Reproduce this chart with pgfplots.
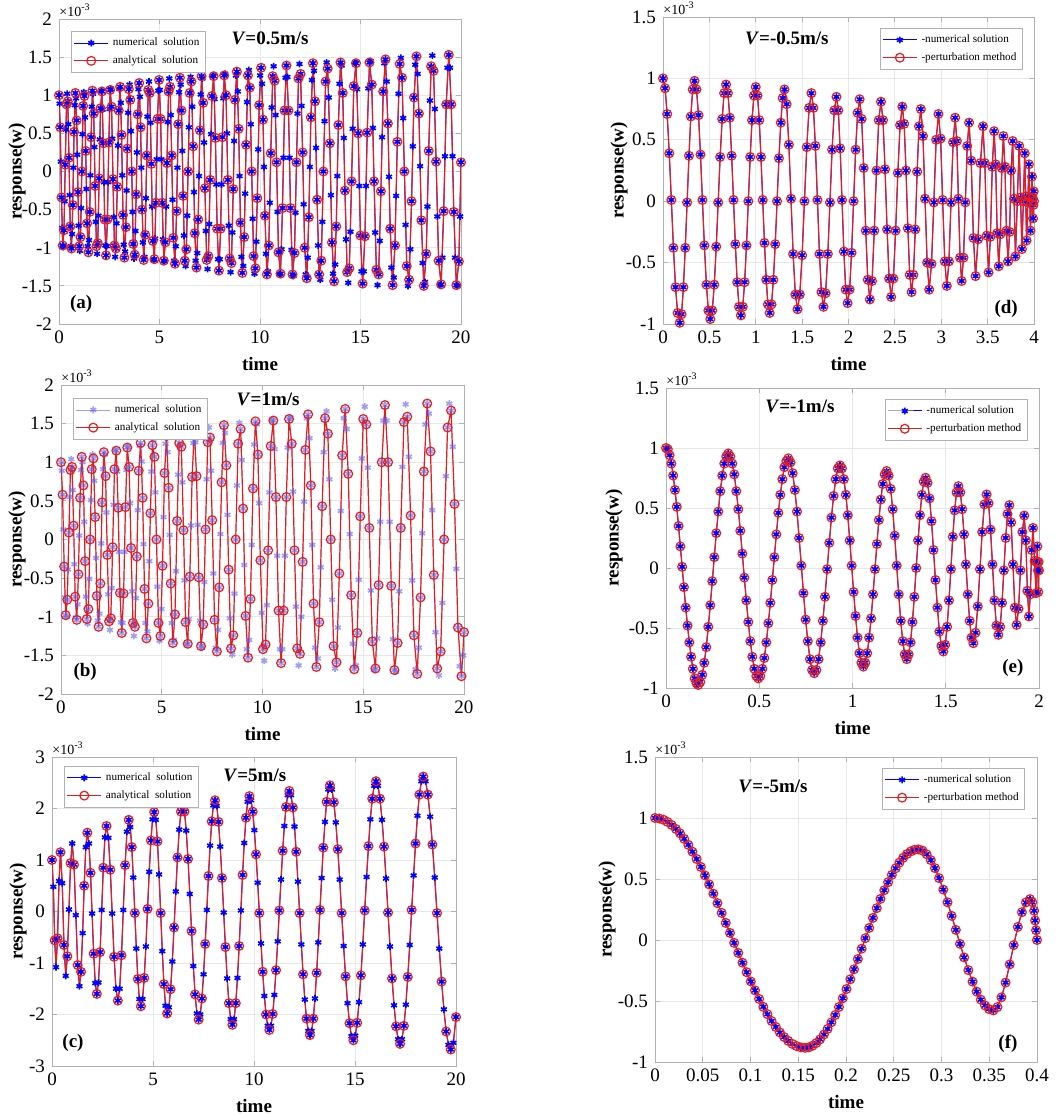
\documentclass[border=0pt]{standalone}
\usepackage{fontspec}
\setmainfont{Liberation Serif}
\usepackage{pgfplots}
\usepackage{pgfplotstable}
\pgfplotsset{compat=1.18}

\pgfplotsset{
  panel/.style={
    scale only axis, anchor=south west,
    axis line style={gray!60}, tick style={gray!60, line width=0.4pt},
    major tick length=2.5pt, tick align=inside,
    grid=major, major grid style={gray!18, line width=0.4pt},
    /pgf/number format/assume math mode=true,
    /pgf/number format/fixed,
    scaled ticks=false,
    tick label style={font=\fontsize{9.5}{11}\selectfont, black},
    label style={font=\bfseries\fontsize{9.5}{11}\selectfont},
    xlabel={time},
    legend style={draw=gray!60, line width=0.5pt, font=\fontsize{5.6}{6.4}\selectfont,
      cells={anchor=west}, inner sep=1pt, row sep=-0.5pt},
  },
  num/.style={color=blue, line width=0.5pt, mark=asterisk, mark size=1.7pt, mark options={line width=0.8pt}},
  ana/.style={color={rgb,255:red,232;green,28;blue,28}, line width=0.6pt, mark=o, mark size=2.2pt,
    mark options={line width=0.6pt},
    legend image code/.code={\draw[##1,mark repeat=2,mark phase=2] plot coordinates {(0cm,0cm) (0.3cm,0cm) (0.6cm,0cm)};}},
}
\tikzset{
  xe/.style={font=\fontsize{7}{8}\selectfont, anchor=south west, inner sep=0pt},
  tt/.style={font=\bfseries\fontsize{9.5}{11}\selectfont},
  yl/.style={font=\bfseries\fontsize{9.5}{11}\selectfont, rotate=90, anchor=center},
}

% V = 0.5 m/s
\pgfplotstableread[row sep=\\]{
t w\\
0 1.00\\ 0.062 0.58\\ 0.124 -0.34\\ 0.186 -0.97\\ 0.248 -0.77\\ 0.311 0.09\\ 0.373 0.88\\ 0.435 0.92\\ 0.497 0.18\\ 0.559 -0.72\\
0.621 -1.01\\ 0.685 -0.44\\ 0.750 0.52\\ 0.814 1.03\\ 0.878 0.67\\ 0.943 -0.27\\ 1.007 -0.98\\ 1.071 -0.86\\ 1.135 0.00\\ 1.200 0.86\\
1.264 0.99\\ 1.330 0.27\\ 1.397 -0.68\\ 1.463 -1.06\\ 1.530 -0.53\\ 1.596 0.45\\ 1.662 1.06\\ 1.729 0.76\\ 1.795 -0.19\\ 1.862 -0.98\\
1.928 -0.94\\ 1.997 -0.09\\ 2.065 0.83\\ 2.134 1.05\\ 2.203 0.37\\ 2.272 -0.63\\ 2.340 -1.10\\ 2.409 -0.63\\ 2.478 0.38\\ 2.546 1.07\\
2.615 0.85\\ 2.686 -0.10\\ 2.757 -0.97\\ 2.828 -1.01\\ 2.899 -0.20\\ 2.971 0.80\\ 3.042 1.11\\ 3.113 0.48\\ 3.184 -0.57\\ 3.255 -1.13\\
3.326 -0.73\\ 3.400 0.30\\ 3.473 1.08\\ 3.547 0.94\\ 3.620 0.00\\ 3.694 -0.95\\ 3.767 -1.09\\ 3.841 -0.30\\ 3.914 0.75\\ 3.988 1.16\\
4.061 0.58\\ 4.137 -0.50\\ 4.213 -1.16\\ 4.289 -0.83\\ 4.365 0.21\\ 4.441 1.07\\ 4.517 1.03\\ 4.593 0.10\\ 4.669 -0.91\\ 4.745 -1.15\\
4.821 -0.41\\ 4.900 0.69\\ 4.978 1.20\\ 5.057 0.69\\ 5.135 -0.41\\ 5.214 -1.17\\ 5.293 -0.93\\ 5.371 0.11\\ 5.450 1.05\\ 5.528 1.11\\
5.607 0.21\\ 5.688 -0.87\\ 5.770 -1.21\\ 5.851 -0.52\\ 5.932 0.62\\ 6.014 1.23\\ 6.095 0.80\\ 6.176 -0.32\\ 6.257 -1.17\\ 6.339 -1.02\\
6.420 0.00\\ 6.504 1.03\\ 6.588 1.18\\ 6.672 0.33\\ 6.756 -0.81\\ 6.840 -1.26\\ 6.924 -0.63\\ 7.008 0.54\\ 7.092 1.25\\ 7.176 0.90\\
7.260 -0.22\\ 7.347 -1.16\\ 7.434 -1.11\\ 7.521 -0.11\\ 7.608 0.99\\ 7.695 1.25\\ 7.782 0.44\\ 7.869 -0.75\\ 7.956 -1.30\\ 8.043 -0.75\\
8.130 0.45\\ 8.220 1.26\\ 8.310 1.00\\ 8.400 -0.11\\ 8.490 -1.14\\ 8.580 -1.20\\ 8.669 -0.23\\ 8.759 0.94\\ 8.849 1.31\\ 8.939 0.56\\
9.029 -0.67\\ 9.122 -1.33\\ 9.215 -0.86\\ 9.308 0.35\\ 9.401 1.26\\ 9.494 1.10\\ 9.587 0.00\\ 9.680 -1.11\\ 9.773 -1.27\\ 9.866 -0.35\\
9.959 0.87\\ 10.055 1.36\\ 10.151 0.68\\ 10.247 -0.58\\ 10.343 -1.35\\ 10.440 -0.97\\ 10.536 0.24\\ 10.632 1.25\\ 10.728 1.19\\ 10.824 0.12\\
10.920 -1.06\\ 11.020 -1.34\\ 11.119 -0.48\\ 11.219 0.80\\ 11.318 1.39\\ 11.418 0.80\\ 11.517 -0.48\\ 11.617 -1.35\\ 11.716 -1.07\\ 11.816 0.12\\
11.915 1.22\\ 12.018 1.28\\ 12.121 0.25\\ 12.223 -1.00\\ 12.326 -1.40\\ 12.429 -0.60\\ 12.532 0.71\\ 12.635 1.42\\ 12.737 0.92\\ 12.840 -0.37\\
12.943 -1.35\\ 13.049 -1.17\\ 13.156 0.00\\ 13.262 1.18\\ 13.368 1.35\\ 13.475 0.37\\ 13.581 -0.93\\ 13.687 -1.44\\ 13.794 -0.72\\ 13.900 0.61\\
14.006 1.43\\ 14.116 1.03\\ 14.226 -0.25\\ 14.336 -1.32\\ 14.446 -1.27\\ 14.556 -0.13\\ 14.666 1.12\\ 14.776 1.42\\ 14.886 0.50\\ 14.996 -0.84\\
15.106 -1.47\\ 15.220 -0.85\\ 15.334 0.51\\ 15.447 1.43\\ 15.561 1.14\\ 15.675 -0.13\\ 15.789 -1.29\\ 15.903 -1.35\\ 16.016 -0.26\\ 16.130 1.05\\
16.244 1.47\\ 16.362 0.63\\ 16.479 -0.75\\ 16.597 -1.49\\ 16.714 -0.97\\ 16.832 0.39\\ 16.949 1.41\\ 17.067 1.23\\ 17.184 0.00\\ 17.302 -1.24\\
17.419 -1.42\\ 17.541 -0.39\\ 17.662 0.97\\ 17.784 1.51\\ 17.906 0.76\\ 18.028 -0.64\\ 18.149 -1.50\\ 18.271 -1.08\\ 18.393 0.27\\ 18.514 1.38\\
18.636 1.32\\ 18.762 0.13\\ 18.887 -1.17\\ 19.013 -1.48\\ 19.139 -0.52\\ 19.265 0.88\\ 19.391 1.53\\ 19.516 0.88\\ 19.642 -0.53\\ 19.768 -1.49\\
19.894 -1.18\\ 20.000 0.12\\
}\dataA
% numerical samples between the ones above
\pgfplotstableread[row sep=\\]{
t w\\
0.031 0.89\\ 0.093 0.13\\ 0.155 -0.74\\ 0.217 -0.99\\ 0.280 -0.39\\ 0.342 0.55\\ 0.404 1.02\\ 0.466 0.62\\ 0.528 -0.31\\ 0.590 -0.98\\
0.653 -0.82\\ 0.717 0.05\\ 0.782 0.87\\ 0.846 0.96\\ 0.910 0.22\\ 0.975 -0.71\\ 1.039 -1.04\\ 1.103 -0.48\\ 1.167 0.49\\ 1.232 1.04\\
1.297 0.71\\ 1.363 -0.23\\ 1.430 -0.98\\ 1.496 -0.90\\ 1.563 -0.05\\ 1.629 0.85\\ 1.695 1.02\\ 1.762 0.32\\ 1.828 -0.66\\ 1.895 -1.08\\
1.962 -0.58\\ 2.031 0.42\\ 2.099 1.06\\ 2.168 0.81\\ 2.237 -0.14\\ 2.306 -0.97\\ 2.374 -0.98\\ 2.443 -0.14\\ 2.512 0.82\\ 2.580 1.08\\
2.651 0.43\\ 2.722 -0.60\\ 2.793 -1.12\\ 2.864 -0.68\\ 2.935 0.34\\ 3.007 1.08\\ 3.078 0.90\\ 3.149 -0.05\\ 3.220 -0.96\\ 3.291 -1.05\\
3.363 -0.25\\ 3.437 0.77\\ 3.510 1.14\\ 3.584 0.53\\ 3.657 -0.53\\ 3.731 -1.14\\ 3.804 -0.78\\ 3.878 0.25\\ 3.951 1.08\\ 4.025 0.98\\
4.099 0.05\\ 4.175 -0.93\\ 4.251 -1.12\\ 4.327 -0.35\\ 4.403 0.72\\ 4.479 1.18\\ 4.555 0.64\\ 4.631 -0.46\\ 4.707 -1.16\\ 4.783 -0.88\\
4.860 0.16\\ 4.939 1.06\\ 5.017 1.07\\ 5.096 0.16\\ 5.174 -0.89\\ 5.253 -1.18\\ 5.332 -0.46\\ 5.410 0.65\\ 5.489 1.22\\ 5.567 0.74\\
5.648 -0.37\\ 5.729 -1.17\\ 5.811 -0.98\\ 5.892 0.05\\ 5.973 1.04\\ 6.055 1.14\\ 6.136 0.27\\ 6.217 -0.84\\ 6.298 -1.24\\ 6.380 -0.58\\
6.462 0.58\\ 6.546 1.24\\ 6.630 0.85\\ 6.714 -0.27\\ 6.798 -1.17\\ 6.882 -1.07\\ 6.966 -0.06\\ 7.050 1.01\\ 7.134 1.22\\ 7.218 0.38\\
7.304 -0.78\\ 7.391 -1.28\\ 7.478 -0.69\\ 7.565 0.49\\ 7.652 1.26\\ 7.739 0.95\\ 7.826 -0.17\\ 7.913 -1.15\\ 8.000 -1.15\\ 8.087 -0.17\\
8.175 0.96\\ 8.265 1.28\\ 8.355 0.50\\ 8.445 -0.71\\ 8.535 -1.32\\ 8.625 -0.80\\ 8.714 0.40\\ 8.804 1.26\\ 8.894 1.05\\ 8.984 -0.06\\
9.076 -1.12\\ 9.169 -1.24\\ 9.262 -0.29\\ 9.355 0.91\\ 9.448 1.33\\ 9.541 0.62\\ 9.634 -0.62\\ 9.727 -1.34\\ 9.820 -0.92\\ 9.913 0.29\\
10.007 1.26\\ 10.103 1.15\\ 10.199 0.06\\ 10.295 -1.08\\ 10.391 -1.31\\ 10.488 -0.41\\ 10.584 0.84\\ 10.680 1.38\\ 10.776 0.74\\ 10.872 -0.53\\
10.970 -1.35\\ 11.070 -1.02\\ 11.169 0.18\\ 11.269 1.23\\ 11.368 1.24\\ 11.468 0.18\\ 11.567 -1.03\\ 11.667 -1.37\\ 11.766 -0.54\\ 11.866 0.76\\
11.966 1.41\\ 12.069 0.86\\ 12.172 -0.43\\ 12.274 -1.35\\ 12.377 -1.13\\ 12.480 0.06\\ 12.583 1.20\\ 12.686 1.32\\ 12.788 0.31\\ 12.891 -0.97\\
12.996 -1.42\\ 13.102 -0.66\\ 13.209 0.66\\ 13.315 1.43\\ 13.421 0.97\\ 13.528 -0.31\\ 13.634 -1.34\\ 13.740 -1.22\\ 13.847 -0.06\\ 13.953 1.15\\
14.061 1.39\\ 14.171 0.44\\ 14.281 -0.89\\ 14.391 -1.46\\ 14.501 -0.79\\ 14.611 0.56\\ 14.721 1.43\\ 14.831 1.08\\ 14.941 -0.19\\ 15.051 -1.31\\
15.163 -1.31\\ 15.277 -0.19\\ 15.391 1.09\\ 15.504 1.45\\ 15.618 0.57\\ 15.732 -0.80\\ 15.846 -1.49\\ 15.960 -0.91\\ 16.073 0.45\\ 16.187 1.42\\
16.303 1.18\\ 16.421 -0.07\\ 16.538 -1.26\\ 16.656 -1.39\\ 16.773 -0.32\\ 16.891 1.02\\ 17.008 1.49\\ 17.126 0.70\\ 17.243 -0.70\\ 17.361 -1.50\\
17.480 -1.02\\ 17.602 0.33\\ 17.723 1.40\\ 17.845 1.28\\ 17.967 0.07\\ 18.089 -1.20\\ 18.210 -1.45\\ 18.332 -0.46\\ 18.454 0.93\\ 18.575 1.52\\
18.699 0.82\\ 18.825 -0.59\\ 18.950 -1.49\\ 19.076 -1.13\\ 19.202 0.20\\ 19.328 1.36\\ 19.454 1.36\\ 19.579 0.20\\ 19.705 -1.13\\ 19.831 -1.50\\
19.957 -0.59\\
}\dataAm

% V = 1 m/s
\pgfplotstableread[row sep=\\]{
t w\\
0 1.00\\ 0.078 0.58\\ 0.157 -0.35\\ 0.235 -0.98\\ 0.313 -0.78\\ 0.392 0.09\\ 0.470 0.90\\ 0.548 0.94\\ 0.626 0.18\\ 0.705 -0.74\\
0.783 -1.04\\ 0.865 -0.45\\ 0.948 0.54\\ 1.030 1.07\\ 1.113 0.70\\ 1.195 -0.28\\ 1.277 -1.03\\ 1.360 -0.90\\ 1.442 0.00\\ 1.525 0.91\\
1.607 1.05\\ 1.694 0.29\\ 1.780 -0.73\\ 1.867 -1.13\\ 1.953 -0.57\\ 2.040 0.48\\ 2.126 1.13\\ 2.213 0.82\\ 2.299 -0.20\\ 2.386 -1.06\\
2.472 -1.02\\ 2.563 -0.10\\ 2.654 0.91\\ 2.745 1.15\\ 2.836 0.41\\ 2.927 -0.69\\ 3.017 -1.21\\ 3.108 -0.70\\ 3.199 0.42\\ 3.290 1.19\\
3.381 0.94\\ 3.477 -0.11\\ 3.572 -1.08\\ 3.668 -1.13\\ 3.763 -0.22\\ 3.859 0.89\\ 3.954 1.25\\ 4.050 0.54\\ 4.145 -0.64\\ 4.241 -1.28\\
4.336 -0.83\\ 4.436 0.34\\ 4.537 1.22\\ 4.637 1.07\\ 4.738 0.00\\ 4.838 -1.08\\ 4.938 -1.25\\ 5.039 -0.34\\ 5.139 0.86\\ 5.240 1.34\\
5.340 0.67\\ 5.446 -0.57\\ 5.551 -1.34\\ 5.657 -0.97\\ 5.762 0.24\\ 5.868 1.25\\ 5.973 1.20\\ 6.079 0.12\\ 6.184 -1.07\\ 6.290 -1.35\\
6.395 -0.48\\ 6.506 0.81\\ 6.617 1.42\\ 6.728 0.82\\ 6.839 -0.49\\ 6.950 -1.38\\ 7.060 -1.10\\ 7.171 0.13\\ 7.282 1.26\\ 7.393 1.32\\
7.504 0.25\\ 7.621 -1.04\\ 7.737 -1.45\\ 7.854 -0.62\\ 7.970 0.74\\ 8.087 1.48\\ 8.204 0.96\\ 8.320 -0.39\\ 8.437 -1.41\\ 8.553 -1.24\\
8.670 0.00\\ 8.792 1.24\\ 8.915 1.43\\ 9.037 0.40\\ 9.160 -0.99\\ 9.282 -1.53\\ 9.404 -0.77\\ 9.527 0.66\\ 9.649 1.53\\ 9.772 1.10\\
9.894 -0.27\\ 10.023 -1.42\\ 10.152 -1.36\\ 10.280 -0.14\\ 10.409 1.21\\ 10.538 1.54\\ 10.667 0.55\\ 10.796 -0.92\\ 10.924 -1.60\\ 11.053 -0.92\\
11.182 0.55\\ 11.317 1.56\\ 11.452 1.24\\ 11.588 -0.14\\ 11.723 -1.41\\ 11.858 -1.48\\ 11.993 -0.29\\ 12.128 1.16\\ 12.264 1.62\\ 12.399 0.70\\
12.534 -0.83\\ 12.676 -1.65\\ 12.818 -1.07\\ 12.961 0.43\\ 13.103 1.57\\ 13.245 1.37\\ 13.387 0.00\\ 13.529 -1.38\\ 13.672 -1.59\\ 13.814 -0.44\\
13.956 1.09\\ 14.105 1.69\\ 14.255 0.85\\ 14.404 -0.72\\ 14.553 -1.68\\ 14.703 -1.21\\ 14.852 0.30\\ 15.001 1.56\\ 15.150 1.49\\ 15.300 0.15\\
15.449 -1.32\\ 15.606 -1.67\\ 15.763 -0.59\\ 15.920 1.00\\ 16.077 1.74\\ 16.234 1.00\\ 16.391 -0.60\\ 16.548 -1.69\\ 16.705 -1.34\\ 16.862 0.15\\
17.019 1.52\\ 17.184 1.59\\ 17.349 0.31\\ 17.514 -1.24\\ 17.679 -1.74\\ 17.844 -0.75\\ 18.009 0.88\\ 18.174 1.76\\ 18.339 1.14\\ 18.504 -0.46\\
18.669 -1.67\\ 18.841 -1.45\\ 19.013 0.00\\ 19.185 1.45\\ 19.358 1.67\\ 19.530 0.46\\ 19.702 -1.14\\ 19.874 -1.77\\ 20.000 -1.20\\
}\dataB
\pgfplotstableread[row sep=\\]{
t w\\
0.039 0.89\\ 0.117 0.13\\ 0.196 -0.75\\ 0.274 -1.00\\ 0.352 -0.39\\ 0.431 0.55\\ 0.509 1.04\\ 0.587 0.64\\ 0.665 -0.32\\ 0.744 -1.01\\
0.824 -0.84\\ 0.906 0.05\\ 0.989 0.90\\ 1.071 1.00\\ 1.154 0.23\\ 1.236 -0.74\\ 1.318 -1.09\\ 1.401 -0.51\\ 1.483 0.51\\ 1.566 1.10\\
1.650 0.76\\ 1.737 -0.24\\ 1.823 -1.05\\ 1.910 -0.96\\ 1.996 -0.05\\ 2.083 0.91\\ 2.169 1.10\\ 2.256 0.35\\ 2.342 -0.71\\ 2.429 -1.17\\
2.517 -0.63\\ 2.608 0.45\\ 2.699 1.16\\ 2.790 0.88\\ 2.881 -0.16\\ 2.972 -1.07\\ 3.062 -1.08\\ 3.153 -0.16\\ 3.244 0.90\\ 3.335 1.20\\
3.429 0.47\\ 3.525 -0.67\\ 3.620 -1.25\\ 3.716 -0.76\\ 3.811 0.38\\ 3.907 1.21\\ 4.002 1.01\\ 4.098 -0.06\\ 4.193 -1.08\\ 4.289 -1.19\\
4.386 -0.28\\ 4.486 0.88\\ 4.587 1.29\\ 4.687 0.61\\ 4.788 -0.61\\ 4.888 -1.31\\ 4.988 -0.90\\ 5.089 0.29\\ 5.189 1.24\\ 5.290 1.13\\
5.393 0.06\\ 5.499 -1.08\\ 5.604 -1.30\\ 5.710 -0.41\\ 5.815 0.84\\ 5.921 1.38\\ 6.026 0.74\\ 6.132 -0.53\\ 6.237 -1.36\\ 6.343 -1.03\\
6.450 0.18\\ 6.561 1.25\\ 6.672 1.26\\ 6.783 0.19\\ 6.894 -1.05\\ 7.005 -1.40\\ 7.115 -0.55\\ 7.226 0.78\\ 7.337 1.45\\ 7.448 0.89\\
7.562 -0.44\\ 7.679 -1.40\\ 7.795 -1.17\\ 7.912 0.07\\ 8.028 1.25\\ 8.145 1.38\\ 8.262 0.32\\ 8.378 -1.02\\ 8.495 -1.49\\ 8.611 -0.70\\
8.731 0.70\\ 8.853 1.51\\ 8.976 1.03\\ 9.098 -0.33\\ 9.221 -1.42\\ 9.343 -1.30\\ 9.465 -0.07\\ 9.588 1.23\\ 9.710 1.49\\ 9.833 0.47\\
9.958 -0.95\\ 10.087 -1.57\\ 10.216 -0.85\\ 10.344 0.61\\ 10.473 1.55\\ 10.602 1.17\\ 10.731 -0.21\\ 10.860 -1.42\\ 10.988 -1.42\\ 11.117 -0.21\\
11.250 1.19\\ 11.385 1.58\\ 11.520 0.62\\ 11.656 -0.87\\ 11.791 -1.63\\ 11.926 -1.00\\ 12.061 0.49\\ 12.196 1.57\\ 12.332 1.31\\ 12.467 -0.07\\
12.605 -1.40\\ 12.747 -1.54\\ 12.889 -0.36\\ 13.032 1.13\\ 13.174 1.66\\ 13.316 0.78\\ 13.458 -0.78\\ 13.600 -1.67\\ 13.743 -1.14\\ 13.885 0.37\\
14.031 1.57\\ 14.180 1.43\\ 14.330 0.07\\ 14.479 -1.35\\ 14.628 -1.63\\ 14.778 -0.52\\ 14.927 1.05\\ 15.076 1.72\\ 15.225 0.93\\ 15.375 -0.66\\
15.528 -1.69\\ 15.685 -1.28\\ 15.842 0.23\\ 15.999 1.54\\ 16.156 1.54\\ 16.313 0.23\\ 16.470 -1.29\\ 16.627 -1.71\\ 16.784 -0.67\\ 16.941 0.94\\
17.102 1.75\\ 17.267 1.07\\ 17.432 -0.53\\ 17.597 -1.68\\ 17.762 -1.40\\ 17.927 0.08\\ 18.092 1.49\\ 18.257 1.63\\ 18.422 0.38\\ 18.587 -1.20\\
18.755 -1.76\\ 18.927 -0.82\\ 19.099 0.82\\ 19.272 1.76\\ 19.444 1.20\\ 19.616 -0.38\\ 19.788 -1.64\\ 19.960 -1.50\\
}\dataBm

% V = 5 m/s
\pgfplotstableread[row sep=\\]{
t w\\
0 1.00\\ 0.067 0.48\\ 0.133 -0.56\\ 0.200 -1.08\\ 0.273 -0.52\\ 0.347 0.59\\ 0.420 1.15\\ 0.507 0.55\\ 0.593 -0.65\\ 0.680 -1.25\\
0.760 -0.87\\ 0.840 0.04\\ 0.920 0.94\\ 1.000 1.32\\ 1.090 0.91\\ 1.180 -0.07\\ 1.270 -1.04\\ 1.360 -1.45\\ 1.438 -1.17\\ 1.516 -0.42\\
1.594 0.50\\ 1.672 1.25\\ 1.750 1.53\\ 1.828 1.32\\ 1.907 0.75\\ 1.985 -0.04\\ 2.063 -0.82\\ 2.142 -1.39\\ 2.220 -1.60\\ 2.300 -1.38\\
2.380 -0.79\\ 2.460 0.03\\ 2.540 0.85\\ 2.620 1.44\\ 2.700 1.66\\ 2.793 1.43\\ 2.887 0.81\\ 2.980 -0.04\\ 3.073 -0.88\\ 3.167 -1.50\\
3.260 -1.73\\ 3.350 -1.50\\ 3.440 -0.85\\ 3.530 0.03\\ 3.620 0.90\\ 3.710 1.55\\ 3.800 1.78\\ 3.875 1.64\\ 3.950 1.25\\ 4.025 0.66\\
4.100 -0.03\\ 4.175 -0.72\\ 4.250 -1.31\\ 4.325 -1.70\\ 4.400 -1.84\\ 4.483 -1.70\\ 4.565 -1.29\\ 4.648 -0.68\\ 4.730 0.05\\ 4.813 0.77\\
4.895 1.38\\ 4.978 1.79\\ 5.060 1.93\\ 5.140 1.78\\ 5.220 1.36\\ 5.300 0.72\\ 5.380 -0.03\\ 5.460 -0.77\\ 5.540 -1.41\\ 5.620 -1.83\\
5.700 -1.98\\ 5.786 -1.86\\ 5.871 -1.51\\ 5.957 -0.97\\ 6.042 -0.31\\ 6.128 0.39\\ 6.213 1.05\\ 6.299 1.59\\ 6.384 1.94\\ 6.470 2.06\\
6.558 1.94\\ 6.646 1.57\\ 6.733 1.02\\ 6.821 0.34\\ 6.909 -0.38\\ 6.997 -1.06\\ 7.084 -1.61\\ 7.172 -1.98\\ 7.260 -2.10\\ 7.341 -2.00\\
7.422 -1.69\\ 7.503 -1.22\\ 7.584 -0.63\\ 7.665 0.03\\ 7.746 0.69\\ 7.827 1.28\\ 7.908 1.75\\ 7.989 2.06\\ 8.070 2.16\\ 8.156 2.05\\
8.242 1.74\\ 8.328 1.26\\ 8.414 0.65\\ 8.500 -0.02\\ 8.586 -0.69\\ 8.672 -1.30\\ 8.758 -1.78\\ 8.844 -2.09\\ 8.930 -2.20\\ 9.014 -2.09\\
9.098 -1.78\\ 9.182 -1.29\\ 9.266 -0.67\\ 9.350 0.02\\ 9.434 0.71\\ 9.518 1.33\\ 9.602 1.82\\ 9.686 2.13\\ 9.770 2.24\\ 9.853 2.16\\
9.935 1.94\\ 10.018 1.58\\ 10.100 1.11\\ 10.183 0.56\\ 10.265 -0.03\\ 10.348 -0.62\\ 10.430 -1.17\\ 10.513 -1.64\\ 10.595 -2.00\\ 10.678 -2.22\\
10.760 -2.30\\ 10.843 -2.22\\ 10.925 -1.99\\ 11.008 -1.62\\ 11.090 -1.14\\ 11.173 -0.58\\ 11.255 0.02\\ 11.338 0.62\\ 11.420 1.18\\ 11.503 1.66\\
11.585 2.03\\ 11.668 2.26\\ 11.750 2.34\\ 11.835 2.26\\ 11.920 2.02\\ 12.005 1.65\\ 12.090 1.16\\ 12.175 0.58\\ 12.260 -0.03\\ 12.345 -0.64\\
12.430 -1.22\\ 12.515 -1.71\\ 12.600 -2.08\\ 12.685 -2.32\\ 12.770 -2.40\\ 12.853 -2.32\\ 12.935 -2.08\\ 13.018 -1.69\\ 13.100 -1.19\\ 13.183 -0.60\\
13.265 0.03\\ 13.348 0.65\\ 13.430 1.24\\ 13.513 1.74\\ 13.595 2.13\\ 13.678 2.37\\ 13.760 2.45\\ 13.857 2.37\\ 13.953 2.12\\ 14.050 1.73\\
14.147 1.21\\ 14.243 0.62\\ 14.340 -0.03\\ 14.437 -0.67\\ 14.533 -1.26\\ 14.630 -1.78\\ 14.727 -2.17\\ 14.823 -2.42\\ 14.920 -2.50\\ 15.013 -2.41\\
15.107 -2.16\\ 15.200 -1.76\\ 15.293 -1.24\\ 15.387 -0.64\\ 15.480 0.02\\ 15.573 0.67\\ 15.667 1.27\\ 15.760 1.79\\ 15.853 2.19\\ 15.947 2.44\\
16.040 2.53\\ 16.139 2.44\\ 16.238 2.19\\ 16.338 1.78\\ 16.437 1.26\\ 16.536 0.64\\ 16.635 -0.02\\ 16.734 -0.68\\ 16.833 -1.30\\ 16.933 -1.82\\
17.032 -2.23\\ 17.131 -2.48\\ 17.230 -2.57\\ 17.326 -2.48\\ 17.422 -2.22\\ 17.518 -1.81\\ 17.613 -1.27\\ 17.709 -0.65\\ 17.805 0.03\\ 17.901 0.70\\
17.997 1.32\\ 18.092 1.86\\ 18.188 2.27\\ 18.284 2.53\\ 18.380 2.62\\ 18.493 2.53\\ 18.607 2.27\\ 18.720 1.84\\ 18.833 1.30\\ 18.947 0.66\\
19.060 -0.03\\ 19.173 -0.72\\ 19.287 -1.36\\ 19.400 -1.90\\ 19.513 -2.33\\ 19.627 -2.59\\ 19.740 -2.68\\ 19.870 -2.55\\ 20.000 -2.05\\
}\dataC

% V = -0.5 m/s
\pgfplotstableread[row sep=\\]{
t w\\
0 1.00\\ 0.0225 0.92\\ 0.045 0.71\\ 0.0675 0.39\\ 0.09 0.01\\ 0.1125 -0.38\\ 0.135 -0.70\\ 0.1575 -0.91\\ 0.18 -0.99\\
0.20 -0.92\\ 0.22 -0.70\\ 0.24 -0.38\\ 0.26 -0.01\\ 0.28 0.37\\ 0.30 0.69\\ 0.32 0.91\\ 0.34 0.98\\
0.361 0.91\\ 0.383 0.70\\ 0.404 0.38\\ 0.425 0.01\\ 0.446 -0.36\\ 0.468 -0.68\\ 0.489 -0.89\\ 0.51 -0.96\\
0.531 -0.89\\ 0.553 -0.68\\ 0.574 -0.37\\ 0.595 -0.01\\ 0.616 0.36\\ 0.638 0.67\\ 0.659 0.88\\ 0.68 0.95\\
0.70 0.88\\ 0.72 0.68\\ 0.74 0.37\\ 0.76 0.01\\ 0.78 -0.35\\ 0.80 -0.66\\ 0.82 -0.86\\ 0.84 -0.93\\
0.86 -0.86\\ 0.88 -0.66\\ 0.90 -0.36\\ 0.92 0.00\\ 0.94 0.36\\ 0.96 0.66\\ 0.98 0.86\\ 1.00 0.93\\
1.019 0.86\\ 1.038 0.66\\ 1.056 0.36\\ 1.075 0.01\\ 1.094 -0.34\\ 1.113 -0.64\\ 1.131 -0.84\\ 1.15 -0.91\\
1.17 -0.84\\ 1.19 -0.64\\ 1.21 -0.35\\ 1.23 0.00\\ 1.25 0.35\\ 1.27 0.64\\ 1.29 0.84\\ 1.31 0.91\\
1.333 0.79\\ 1.357 0.46\\ 1.38 0.02\\ 1.403 -0.43\\ 1.427 -0.76\\ 1.45 -0.88\\
1.475 -0.76\\ 1.50 -0.44\\ 1.525 0.00\\ 1.55 0.44\\ 1.575 0.76\\ 1.60 0.88\\
1.622 0.76\\ 1.643 0.45\\ 1.665 0.01\\ 1.687 -0.43\\ 1.708 -0.74\\ 1.73 -0.86\\
1.753 -0.75\\ 1.777 -0.43\\ 1.80 -0.01\\ 1.823 0.42\\ 1.847 0.74\\ 1.87 0.85\\
1.89 0.74\\ 1.91 0.43\\ 1.93 0.01\\ 1.95 -0.41\\ 1.97 -0.72\\ 1.99 -0.83\\
2.012 -0.72\\ 2.033 -0.42\\ 2.055 0.00\\ 2.077 0.42\\ 2.098 0.72\\ 2.12 0.83\\
2.142 0.67\\ 2.164 0.27\\ 2.186 -0.24\\ 2.208 -0.64\\ 2.23 -0.80\\
2.254 -0.65\\ 2.278 -0.24\\ 2.302 0.25\\ 2.326 0.66\\ 2.35 0.81\\
2.372 0.66\\ 2.394 0.26\\ 2.416 -0.23\\ 2.438 -0.63\\ 2.46 -0.78\\
2.484 -0.63\\ 2.508 -0.24\\ 2.532 0.23\\ 2.556 0.62\\ 2.58 0.77\\
2.60 0.63\\ 2.62 0.25\\ 2.64 -0.22\\ 2.66 -0.60\\ 2.68 -0.74\\
2.70 -0.60\\ 2.72 -0.23\\ 2.74 0.24\\ 2.76 0.61\\ 2.78 0.75\\
2.803 0.53\\ 2.825 0.02\\ 2.848 -0.50\\ 2.87 -0.72\\
2.895 -0.51\\ 2.92 -0.01\\ 2.945 0.50\\ 2.97 0.71\\
2.993 0.51\\ 3.015 0.01\\ 3.038 -0.49\\ 3.06 -0.69\\
3.083 -0.49\\ 3.105 -0.01\\ 3.128 0.48\\ 3.15 0.68\\
3.168 0.49\\ 3.185 0.02\\ 3.203 -0.46\\ 3.22 -0.65\\
3.24 -0.46\\ 3.26 -0.01\\ 3.28 0.45\\ 3.30 0.64\\
3.323 0.33\\ 3.347 -0.30\\ 3.37 -0.61\\ 3.397 -0.31\\ 3.423 0.31\\ 3.45 0.61\\
3.47 0.31\\ 3.49 -0.28\\ 3.51 -0.58\\ 3.53 -0.29\\ 3.55 0.28\\ 3.57 0.57\\
3.587 0.30\\ 3.603 -0.26\\ 3.62 -0.53\\ 3.637 -0.27\\ 3.653 0.27\\ 3.67 0.53\\
3.687 0.28\\ 3.703 -0.24\\ 3.72 -0.49\\ 3.737 -0.25\\ 3.753 0.25\\ 3.77 0.49\\
3.785 0.02\\ 3.80 -0.45\\ 3.82 0.00\\ 3.84 0.45\\ 3.855 0.03\\ 3.87 -0.39\\ 3.885 0.00\\ 3.90 0.39\\
3.91 0.04\\ 3.92 -0.32\\ 3.933 -0.01\\ 3.945 0.30\\ 3.954 0.03\\ 3.962 -0.24\\ 3.97 -0.02\\ 3.978 0.20\\
3.984 0.03\\ 3.99 -0.14\\ 3.994 -0.03\\ 3.997 0.08\\ 4.00 0.00\\
}\dataD

% V = -1 m/s
\pgfplotstableread[row sep=\\]{
t w\\
0 1.00\\ 0.0096 0.99\\ 0.0192 0.94\\ 0.0288 0.87\\ 0.0384 0.77\\ 0.0481 0.65\\ 0.0577 0.51\\ 0.0673 0.35\\ 0.0769 0.18\\ 0.0865 0.01\\
0.0961 -0.16\\ 0.1057 -0.33\\ 0.1153 -0.48\\ 0.125 -0.62\\ 0.1346 -0.74\\ 0.1442 -0.84\\ 0.1538 -0.92\\ 0.1634 -0.96\\ 0.173 -0.975\\
0.1837 -0.95\\ 0.1945 -0.89\\ 0.2052 -0.79\\ 0.2159 -0.66\\ 0.2267 -0.49\\ 0.2374 -0.31\\ 0.2481 -0.11\\ 0.2588 0.09\\ 0.2696 0.29\\ 0.2803 0.47\\
0.291 0.64\\ 0.3018 0.77\\ 0.3125 0.87\\ 0.3232 0.93\\ 0.334 0.955\\
0.3447 0.93\\ 0.3555 0.87\\ 0.3662 0.78\\ 0.3769 0.64\\ 0.3877 0.49\\ 0.3984 0.31\\ 0.4091 0.12\\ 0.4199 -0.08\\ 0.4306 -0.27\\ 0.4413 -0.45\\
0.452 -0.61\\ 0.4628 -0.74\\ 0.4735 -0.84\\ 0.4842 -0.90\\ 0.495 -0.92\\
0.5057 -0.90\\ 0.5165 -0.84\\ 0.5272 -0.75\\ 0.5379 -0.62\\ 0.5487 -0.46\\ 0.5594 -0.29\\ 0.5701 -0.10\\ 0.5808 0.09\\ 0.5916 0.28\\ 0.6023 0.46\\
0.613 0.61\\ 0.6238 0.74\\ 0.6345 0.84\\ 0.6452 0.89\\ 0.656 0.914\\
0.6676 0.88\\ 0.6792 0.79\\ 0.6908 0.65\\ 0.7023 0.47\\ 0.7139 0.25\\ 0.7255 0.02\\ 0.7371 -0.21\\ 0.7487 -0.43\\ 0.7603 -0.61\\ 0.7718 -0.76\\
0.7834 -0.85\\ 0.795 -0.877\\
0.8065 -0.85\\ 0.818 -0.76\\ 0.8295 -0.62\\ 0.841 -0.44\\ 0.8525 -0.24\\ 0.864 -0.01\\ 0.8755 0.21\\ 0.887 0.42\\ 0.8985 0.60\\ 0.91 0.74\\
0.9215 0.83\\ 0.933 0.855\\
0.9434 0.83\\ 0.9538 0.74\\ 0.9643 0.61\\ 0.9747 0.44\\ 0.9851 0.23\\ 0.9955 0.02\\ 1.0059 -0.20\\ 1.0163 -0.40\\ 1.0268 -0.58\\ 1.0372 -0.71\\
1.0476 -0.79\\ 1.058 -0.822\\
1.0684 -0.79\\ 1.0788 -0.71\\ 1.0893 -0.58\\ 1.0997 -0.42\\ 1.1101 -0.22\\ 1.1205 -0.01\\ 1.1309 0.20\\ 1.1413 0.40\\ 1.1518 0.57\\ 1.1622 0.70\\
1.1726 0.78\\ 1.183 0.808\\
1.1938 0.77\\ 1.2046 0.66\\ 1.2154 0.49\\ 1.2262 0.27\\ 1.237 0.02\\ 1.2478 -0.22\\ 1.2586 -0.44\\ 1.2694 -0.61\\ 1.2802 -0.72\\ 1.291 -0.76\\
1.3011 -0.72\\ 1.3112 -0.62\\ 1.3213 -0.45\\ 1.3314 -0.24\\ 1.3415 0.00\\ 1.3516 0.23\\ 1.3617 0.44\\ 1.3718 0.61\\ 1.3819 0.72\\ 1.392 0.752\\
1.4026 0.71\\ 1.4131 0.58\\ 1.4237 0.39\\ 1.4342 0.15\\ 1.4448 -0.10\\ 1.4553 -0.33\\ 1.4659 -0.53\\ 1.4764 -0.65\\ 1.487 -0.696\\
1.4971 -0.64\\ 1.5073 -0.49\\ 1.5174 -0.27\\ 1.5275 -0.01\\ 1.5376 0.26\\ 1.5478 0.48\\ 1.5579 0.63\\ 1.568 0.682\\
1.578 0.63\\ 1.588 0.49\\ 1.598 0.28\\ 1.608 0.03\\ 1.618 -0.22\\ 1.628 -0.44\\ 1.638 -0.58\\ 1.648 -0.627\\
1.6598 -0.54\\ 1.6717 -0.32\\ 1.6835 -0.01\\ 1.6953 0.30\\ 1.7072 0.53\\ 1.719 0.613\\
1.7295 0.54\\ 1.74 0.32\\ 1.7505 0.03\\ 1.761 -0.27\\ 1.7715 -0.48\\ 1.782 -0.557\\
1.7918 -0.49\\ 1.8017 -0.29\\ 1.8115 -0.02\\ 1.8213 0.25\\ 1.8312 0.45\\ 1.841 0.524\\
1.8508 0.38\\ 1.8605 0.03\\ 1.8703 -0.33\\ 1.88 -0.474\\ 1.8903 -0.34\\ 1.9005 -0.02\\ 1.9108 0.30\\ 1.921 0.437\\
1.9293 0.23\\ 1.9377 -0.19\\ 1.946 -0.404\\ 1.9533 -0.22\\ 1.9607 0.15\\ 1.968 0.334\\ 1.976 0.06\\ 1.984 -0.21\\
1.988 0.05\\ 1.991 0.18\\ 1.994 -0.02\\ 1.996 -0.20\\ 1.998 0.05\\ 2.000 -0.02\\
}\dataE

% V = -5 m/s
\pgfplotstableread[row sep=\\]{
t w\\
0 1.000\\ 0.0044 0.996\\ 0.0087 0.986\\ 0.0131 0.968\\ 0.0174 0.943\\ 0.0218 0.911\\ 0.0262 0.874\\ 0.0305 0.829\\ 0.0349 0.780\\ 0.0392 0.724\\
0.0436 0.664\\ 0.0480 0.599\\ 0.0523 0.529\\ 0.0567 0.456\\ 0.0611 0.380\\ 0.0654 0.302\\ 0.0698 0.222\\ 0.0741 0.140\\ 0.0785 0.058\\ 0.0829 -0.024\\
0.0872 -0.106\\ 0.0916 -0.186\\ 0.0960 -0.264\\ 0.1003 -0.340\\ 0.1047 -0.413\\ 0.1090 -0.483\\ 0.1134 -0.548\\ 0.1177 -0.608\\ 0.1221 -0.664\\ 0.1265 -0.713\\
0.1308 -0.758\\ 0.1352 -0.795\\ 0.1395 -0.827\\ 0.1439 -0.852\\ 0.1483 -0.870\\ 0.1526 -0.880\\ 0.1570 -0.884\\
0.1610 -0.880\\ 0.1649 -0.867\\ 0.1689 -0.845\\ 0.1728 -0.815\\ 0.1768 -0.775\\ 0.1807 -0.729\\ 0.1847 -0.675\\ 0.1887 -0.615\\ 0.1926 -0.549\\ 0.1966 -0.478\\
0.2005 -0.402\\ 0.2045 -0.322\\ 0.2084 -0.240\\ 0.2124 -0.156\\ 0.2164 -0.071\\ 0.2203 0.015\\ 0.2243 0.099\\ 0.2282 0.181\\ 0.2322 0.261\\ 0.2361 0.337\\
0.2401 0.408\\ 0.2441 0.474\\ 0.2480 0.534\\ 0.2520 0.588\\ 0.2559 0.634\\ 0.2599 0.674\\ 0.2638 0.704\\ 0.2678 0.726\\ 0.2717 0.739\\ 0.2757 0.743\\
0.2801 0.733\\ 0.2844 0.703\\ 0.2888 0.655\\ 0.2932 0.589\\ 0.2975 0.507\\ 0.3019 0.413\\ 0.3063 0.309\\ 0.3106 0.198\\ 0.3150 0.083\\ 0.3194 -0.032\\
0.3237 -0.143\\ 0.3281 -0.247\\ 0.3325 -0.341\\ 0.3368 -0.423\\ 0.3412 -0.489\\ 0.3456 -0.537\\ 0.3499 -0.567\\ 0.3543 -0.577\\
0.3586 -0.550\\ 0.3628 -0.470\\ 0.3671 -0.349\\ 0.3714 -0.200\\ 0.3756 -0.042\\ 0.3799 0.107\\ 0.3842 0.228\\ 0.3884 0.308\\ 0.3927 0.335\\
0.3950 0.310\\ 0.3970 0.240\\ 0.3980 0.160\\ 0.3990 0.080\\ 0.4000 0.000\\
}\dataF

\begin{document}
\begin{tikzpicture}

% (a)
\begin{axis}[panel, name=pa, at={(29.5pt,395.5pt)}, width=201pt, height=152.5pt,
  xmin=0, xmax=20, ymin=-2, ymax=2, xtick={0,5,...,20}, ytick={-2,-1.5,...,2},
  legend style={at={(0.03,0.96)}, anchor=north west}]
\addplot[num] table {\dataA};
\addplot[num, only marks, forget plot] table {\dataAm};
\addplot[ana] table {\dataA};
\legend{numerical\ \ solution, analytical\ \ solution}
\node[tt] at (rel axis cs:0.525,0.938) {\textit{V}=0.5m/s};
\node[tt] at (rel axis cs:0.055,0.066) {(a)};
\end{axis}
\node[xe] at ([yshift=1pt]pa.north west) {×10\textsuperscript{-3}};
\node[yl] at ([xshift=-21pt]pa.west) {response(w)};

% (b)
\begin{axis}[panel, name=pb, at={(30.5pt,210.5pt)}, width=201.5pt, height=154.5pt,
  xmin=0, xmax=20, ymin=-2, ymax=2, xtick={0,5,...,20}, ytick={-2,-1.5,...,2},
  legend style={at={(0.03,0.958)}, anchor=north west}]
\addplot[num, color={rgb,255:red,95;green,95;blue,235}, opacity=0.6, line width=0.35pt] table {\dataB};
\addplot[num, color={rgb,255:red,95;green,95;blue,235}, opacity=0.6, only marks, forget plot] table {\dataBm};
\addplot[ana] table {\dataB};
\legend{numerical\ \ solution, analytical\ \ solution}
\node[tt] at (rel axis cs:0.514,0.955) {\textit{V}=1m/s};
\node[tt] at (rel axis cs:0.06,0.071) {(b)};
\end{axis}
\node[xe] at ([yshift=1pt]pb.north west) {×10\textsuperscript{-3}};
\node[yl] at ([xshift=-22pt]pb.west) {response(w)};

% (c)
\begin{axis}[panel, name=pc, at={(26pt,24.5pt)}, width=202pt, height=154.5pt,
  xmin=0, xmax=20, ymin=-3, ymax=3, xtick={0,5,...,20}, ytick={-3,-2,...,3},
  legend style={at={(0.03,0.971)}, anchor=north west}]
\addplot[num] table {\dataC};
\addplot[ana, mark repeat=2] table {\dataC};
\legend{numerical\ \ solution, analytical\ \ solution}
\node[tt] at (rel axis cs:0.502,0.939) {\textit{V}=5m/s};
\node[tt] at (rel axis cs:0.052,0.074) {(c)};
\end{axis}
\node[xe] at ([yshift=1pt]pc.north west) {×10\textsuperscript{-3}};
\node[yl] at ([xshift=-17pt]pc.west) {response(w)};

% (d)
\begin{axis}[panel, name=pd, at={(331.5pt,395.5pt)}, width=185.5pt, height=153.5pt,
  xmin=0, xmax=4, ymin=-1, ymax=1.5, xtick={0,0.5,...,4}, ytick={-1,-0.5,...,1.5},
  legend style={at={(0.97,0.964)}, anchor=north east}]
\addplot[num] table {\dataD};
\addplot[ana] table {\dataD};
\legend{-numerical solution, -perturbation method}
\node[tt] at (rel axis cs:0.334,0.932) {\textit{V}=-0.5m/s};
\node[tt] at (rel axis cs:0.925,0.049) {(d)};
\end{axis}
\node[xe] at ([yshift=1pt]pd.north west) {×10\textsuperscript{-3}};
\node[yl] at ([xshift=-22pt]pd.west) {response(w)};

% (e)
\begin{axis}[panel, name=pe, at={(333pt,213.5pt)}, width=186.5pt, height=150pt,
  xmin=0, xmax=2, ymin=-1, ymax=1.5, xtick={0,0.5,...,2}, ytick={-1,-0.5,...,1.5},
  legend style={at={(0.97,0.963)}, anchor=north east}]
\addplot[num] table {\dataE};
\addplot[ana] table {\dataE};
\legend{-numerical solution, -perturbation method}
\node[tt] at (rel axis cs:0.359,0.94) {\textit{V}=-1m/s};
\node[tt] at (rel axis cs:0.93,0.067) {(e)};
\end{axis}
\node[xe] at ([yshift=1pt]pe.north west) {×10\textsuperscript{-3}};
\node[yl] at ([xshift=-26pt]pe.west) {response(w)};

% (f)
\begin{axis}[panel, name=pf, at={(327.5pt,26.5pt)}, width=191pt, height=152.5pt,
  xmin=0, xmax=0.4, ymin=-1, ymax=1.5, xtick={0,0.05,...,0.4}, ytick={-1,-0.5,...,1.5},
  xticklabel style={/pgf/number format/precision=2},
  legend style={at={(0.969,0.964)}, anchor=north east}]
\addplot[num] table {\dataF};
\addplot[ana] table {\dataF};
\legend{-numerical solution, -perturbation method}
\node[tt] at (rel axis cs:0.309,0.905) {\textit{V}=-5m/s};
\node[tt] at (rel axis cs:0.924,0.059) {(f)};
\end{axis}
\node[xe] at ([yshift=1pt]pf.north west) {×10\textsuperscript{-3}};
\node[yl] at ([xshift=-24pt]pf.west) {response(w)};

\pgfresetboundingbox
\path[use as bounding box] (0,0) rectangle (528pt,557.5pt);
\end{tikzpicture}
\end{document}
